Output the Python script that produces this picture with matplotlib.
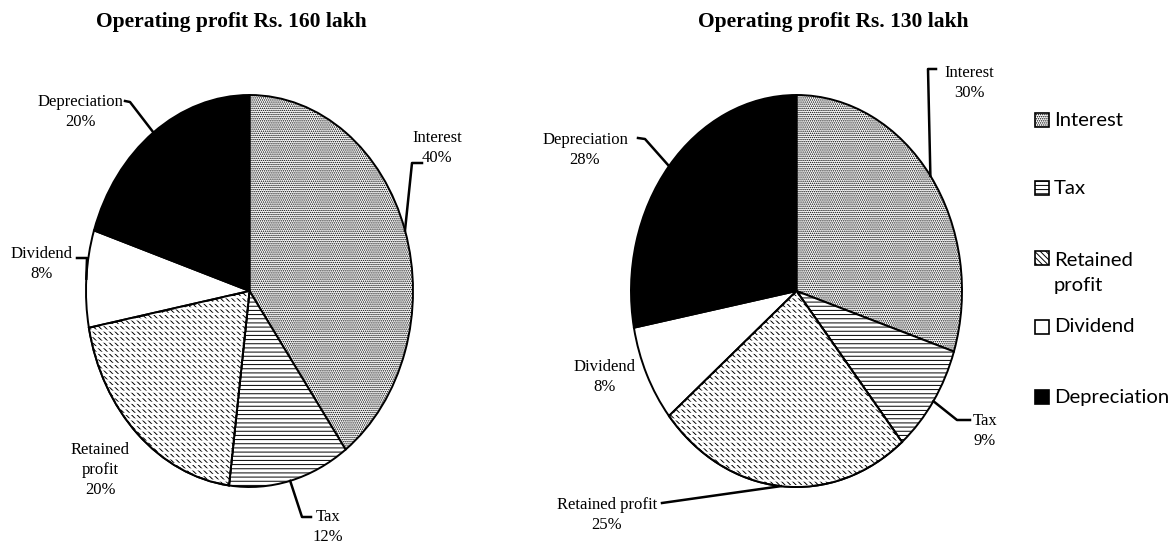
import numpy as np
import matplotlib
matplotlib.use("Agg")
from matplotlib import pyplot as plt
from matplotlib.lines import Line2D
from matplotlib.patches import Rectangle, Wedge

W, H = 1176, 545

categories = ["Interest", "Tax", "Retained profit", "Dividend", "Depreciation"]
left_values = [40, 12, 20, 8, 20]
right_values = [30, 9, 25, 8, 28]
left_title = "Operating profit Rs. 160 lakh"
right_title = "Operating profit Rs. 130 lakh"
left_names = ["Interest", "Tax", "Retained\nprofit", "Dividend", "Depreciation"]
right_names = ["Interest", "Tax", "Retained profit", "Dividend", "Depreciation"]
legend_names = ["Interest", "Tax", "Retained\nprofit", "Dividend", "Depreciation"]

FACES = ["white", "white", "white", "white", "black"]
HATCHES = ["........", "----", "\\\\\\\\\\\\", "", ""]

plt.rcParams["hatch.linewidth"] = 0.7
plt.rcParams["hatch.color"] = "black"

# label layout in pixels: text centre, leader start, leader elbow (None = no leader)
left_layout = [
    ((437, 148), (422, 163), (412, 163)),
    ((328, 527), (311, 517), (302, 517)),
    ((100, 470), None, None),
    ((42, 264), (77, 258), (87, 258)),
    ((80, 112), (125, 101), (130, 102)),
]
right_layout = [
    ((969, 83), (936, 69), (928, 69)),
    ((985, 431), (970, 420), (957, 420)),
    ((607, 515), (662, 503), None),
    ((605, 377), None, None),
    ((585, 150), (638, 138), (645, 139)),
]


def px(x, y):
    return x / W, 1 - y / H


def draw_pie(box, values, names, layout, title, tx):
    x0, y0, x1, y1 = box
    ax = fig.add_axes([x0 / W, 1 - y1 / H, (x1 - x0) / W, (y1 - y0) / H])
    wedges, _ = ax.pie(values, startangle=90, counterclock=False,
                       colors=FACES,
                       wedgeprops=dict(edgecolor="black", linewidth=1.4))
    for w, h in zip(wedges, HATCHES):
        w.set_hatch(h)
        w.set_clip_on(False)
    # white horizontal bands cut the retained-profit diagonals into short dashes
    rp = wedges[2]
    over = Wedge(rp.center, rp.r, rp.theta1, rp.theta2, facecolor="none",
                 edgecolor="white", lw=0, hatch="---")
    if hasattr(over, "set_hatch_linewidth"):
        over.set_hatch_linewidth(1.6)
    ax.add_patch(over)
    ax.add_patch(Wedge(rp.center, rp.r, rp.theta1, rp.theta2, facecolor="none",
                       edgecolor="black", lw=1.4, clip_on=False))
    ax.set_aspect("auto")
    ax.set_xlim(-1, 1)
    ax.set_ylim(-1, 1)
    ax.axis("off")
    fig.text(*px(tx, 22), title, ha="center", va="center",
             fontsize=15.5, fontweight="bold", family="Liberation Serif")
    for w, v, name, (tc, st, el) in zip(wedges, values, names, layout):
        fig.text(*px(*tc), f"{name}\n{v}%", ha="center", va="center",
                 fontsize=12, family="Liberation Serif", linespacing=1.35)
        if st is None:
            continue
        mid = np.deg2rad((w.theta1 + w.theta2) / 2)
        ex, ey = ax.transData.transform((np.cos(mid), np.sin(mid)))
        pts = [st] + ([el] if el is not None else [])
        xs = [p[0] / W for p in pts] + [ex / W]
        ys = [1 - p[1] / H for p in pts] + [ey / H]
        fig.add_artist(Line2D(xs, ys, color="black", lw=1.8,
                              transform=fig.transFigure))
    return ax


fig = plt.figure(figsize=(W / 100, H / 100), dpi=100)

draw_pie((86, 95, 413, 487), left_values, left_names, left_layout, left_title, 231)
draw_pie((631, 95, 962, 487), right_values, right_names, right_layout, right_title, 833)

# legend
leg_y = [120, 188, 273, 327, 397]
for face, hatch, name, y in zip(FACES, HATCHES, legend_names, leg_y):
    ry = y if "\n" not in name else y - 15
    fig.add_artist(Rectangle(px(1035, ry + 7), 14 / W, 14 / H,
                             facecolor=face, edgecolor="black", hatch=hatch,
                             lw=1.2, transform=fig.transFigure))
    fig.text(*px(1054, y), name, ha="left", va="center", fontsize=14.6,
             family="Lato", linespacing=1.5)

fig.savefig("out.png", dpi=100)
